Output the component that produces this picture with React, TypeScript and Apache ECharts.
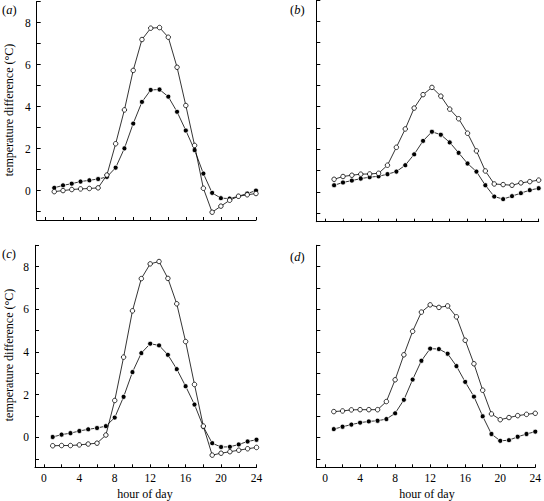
import React, { useEffect, useRef } from "react";
import * as echarts from "echarts";

const hours = [1, 2, 3, 4, 5, 6, 7, 8, 9, 10, 11, 12, 13, 14, 15, 16, 17, 18, 19, 20, 21, 22, 23, 24];

const aOpen = [-0.05, 0.0, 0.05, 0.08, 0.1, 0.13, 0.74, 2.23, 3.84, 5.72, 7.19, 7.73, 7.76, 7.3, 5.87, 4.05, 2.15, 0.11, -1.03, -0.74, -0.46, -0.27, -0.2, -0.14];
const aFilled = [0.13, 0.25, 0.33, 0.43, 0.49, 0.55, 0.65, 1.09, 2.01, 3.19, 4.22, 4.79, 4.81, 4.47, 3.75, 2.86, 1.93, 0.81, -0.11, -0.36, -0.38, -0.27, -0.14, 0.0];

const bOpen = [0.59, 0.72, 0.78, 0.83, 0.84, 0.87, 1.25, 2.09, 2.95, 3.93, 4.56, 4.9, 4.49, 3.88, 3.43, 2.75, 1.92, 0.98, 0.37, 0.34, 0.31, 0.42, 0.48, 0.55];
const bFilled = [0.31, 0.44, 0.53, 0.62, 0.69, 0.73, 0.83, 0.95, 1.25, 1.76, 2.39, 2.82, 2.68, 2.32, 1.83, 1.33, 0.95, 0.31, -0.22, -0.34, -0.2, -0.06, 0.08, 0.17];

const cOpen = [-0.39, -0.38, -0.38, -0.35, -0.31, -0.27, 0.11, 1.73, 3.76, 5.93, 7.44, 8.13, 8.24, 7.45, 6.26, 4.49, 2.48, 0.53, -0.83, -0.74, -0.67, -0.6, -0.53, -0.47];
const cFilled = [0.02, 0.13, 0.2, 0.3, 0.38, 0.44, 0.53, 0.93, 1.9, 3.06, 3.95, 4.39, 4.31, 3.87, 3.2, 2.4, 1.54, 0.5, -0.27, -0.45, -0.44, -0.33, -0.19, -0.11];

const dOpen = [1.21, 1.24, 1.29, 1.3, 1.3, 1.3, 1.68, 2.7, 3.87, 4.97, 5.87, 6.21, 6.09, 6.16, 5.65, 4.55, 3.45, 2.21, 1.1, 0.83, 0.93, 1.02, 1.08, 1.13];
const dFilled = [0.39, 0.5, 0.6, 0.69, 0.75, 0.78, 0.86, 1.13, 1.76, 2.71, 3.59, 4.16, 4.14, 3.92, 3.34, 2.6, 1.91, 0.99, 0.16, -0.16, -0.13, 0.03, 0.16, 0.27];

const xTickValues = [0, 2, 4, 6, 8, 10, 12, 14, 16, 18, 20, 22, 24];
const xLabelValues = [0, 4, 8, 12, 16, 20, 24];
const yTickValues = [-1, 0, 1, 2, 3, 4, 5, 6, 7, 8, 9];
const yLabelValues = [0, 2, 4, 6, 8];

const panelLabels = ["a", "b", "c", "d"];
const yAxisTitle = "temperature difference (°C)";
const xAxisTitle = "hour of day";

const FONT = '"Liberation Serif", "Times New Roman", serif';

export default function App() {
  const ref = useRef<HTMLDivElement>(null);
  useEffect(() => {
    if (!ref.current) return;
    const chart = echarts.init(ref.current, undefined, { renderer: "svg" });

    const grids = [
      { left: 36.7, top: 1.5, width: 219.3, height: 218.5 },
      { left: 316.3, top: 0, width: 222.4, height: 221.7 },
      { left: 35, top: 245.3, width: 221.5, height: 222 },
      { left: 316.3, top: 245.3, width: 221.4, height: 222 },
    ];
    const panelData = [
      [aOpen, aFilled],
      [bOpen, bFilled],
      [cOpen, cFilled],
      [dOpen, dFilled],
    ];

    const xAxes = grids.map((_, i) => ({
      type: "value",
      gridIndex: i,
      min: -1,
      max: 24,
      axisLine: { onZero: false, lineStyle: { color: "#000", width: 1 } },
      axisTick: { inside: true, length: 3, customValues: xTickValues, lineStyle: { color: "#000" } },
      axisLabel: {
        show: i >= 2,
        customValues: xLabelValues,
        color: "#000",
        fontFamily: FONT,
        fontSize: 11.5,
        margin: 5,
      },
      splitLine: { show: false },
    }));

    const yAxes = grids.map((_, i) => ({
      type: "value",
      gridIndex: i,
      min: -1.4,
      max: 9,
      axisLine: { onZero: false, lineStyle: { color: "#000", width: 1 } },
      axisTick: { inside: true, length: 4, customValues: yTickValues, lineStyle: { color: "#000" } },
      axisLabel: {
        show: i % 2 === 0,
        customValues: yLabelValues,
        color: "#000",
        fontFamily: FONT,
        fontSize: 11.5,
        margin: 6,
      },
      splitLine: { show: false },
    }));

    const series: any[] = [];
    panelData.forEach((pair, i) => {
      series.push({
        type: "line",
        xAxisIndex: i,
        yAxisIndex: i,
        data: hours.map((h, k) => [h, pair[1][k]]),
        symbol: "circle",
        symbolSize: 5,
        lineStyle: { color: "#000", width: 0.8 },
        itemStyle: { color: "#000", borderColor: "#fff", borderWidth: 0.8 },
        z: 2,
      });
      series.push({
        type: "line",
        xAxisIndex: i,
        yAxisIndex: i,
        data: hours.map((h, k) => [h, pair[0][k]]),
        symbol: "circle",
        symbolSize: 4.5,
        lineStyle: { color: "#000", width: 0.8 },
        itemStyle: { color: "#fff", borderColor: "#000", borderWidth: 0.8 },
        z: 3,
      });
    });

    const labelPos = [
      [2, 3],
      [290, 3],
      [2, 247],
      [290, 250],
    ];

    const graphic: any[] = panelLabels.map((l, i) => ({
      type: "text",
      x: labelPos[i][0],
      y: labelPos[i][1],
      style: {
        text: `{p|(}{i|${l}}{p|)}`,
        rich: {
          p: { fontFamily: FONT, fontSize: 12.5, fill: "#000" },
          i: { fontFamily: FONT, fontSize: 12.5, fontStyle: "italic", fill: "#000" },
        },
      },
    }));
    graphic.push(
      {
        type: "text",
        x: 9,
        y: 110,
        rotation: Math.PI / 2,
        style: { text: yAxisTitle, fontFamily: FONT, fontSize: 12, fill: "#000", align: "center", verticalAlign: "middle" },
      },
      {
        type: "text",
        x: 9,
        y: 355,
        rotation: Math.PI / 2,
        style: { text: yAxisTitle, fontFamily: FONT, fontSize: 12, fill: "#000", align: "center", verticalAlign: "middle" },
      },
      {
        type: "text",
        x: 145,
        y: 494,
        style: { text: xAxisTitle, fontFamily: FONT, fontSize: 12, fill: "#000", align: "center", verticalAlign: "middle" },
      },
      {
        type: "text",
        x: 427,
        y: 494,
        style: { text: xAxisTitle, fontFamily: FONT, fontSize: 12, fill: "#000", align: "center", verticalAlign: "middle" },
      }
    );

    chart.setOption({
      animation: false,
      backgroundColor: "#fff",
      grid: grids,
      xAxis: xAxes,
      yAxis: yAxes,
      series,
      graphic,
    });
    return () => chart.dispose();
  }, []);
  return <div ref={ref} style={{ position: "fixed", left: 0, top: 0, width: 544, height: 501 }} />;
}
